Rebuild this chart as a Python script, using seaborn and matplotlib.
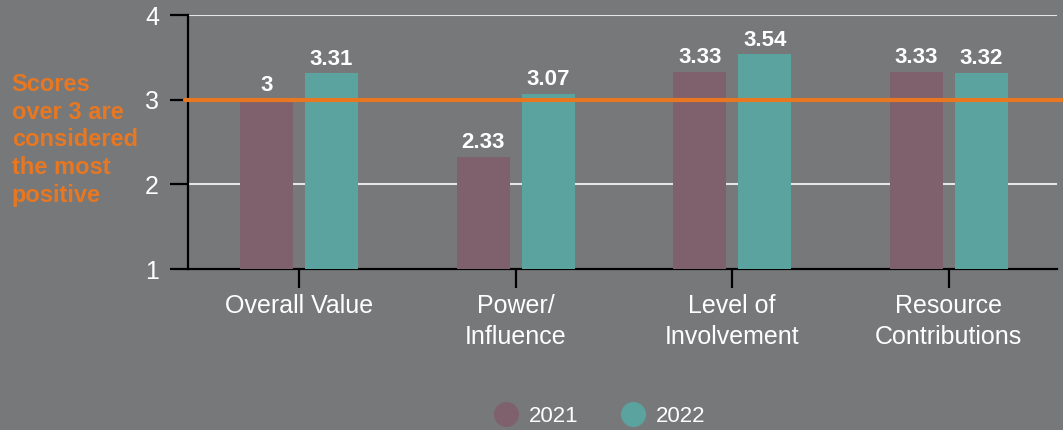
import matplotlib
matplotlib.use('Agg')
import matplotlib.pyplot as plt
from matplotlib.lines import Line2D
import pandas as pd
import seaborn as sns

# Dados do gráfico
categorias = ['Overall Value', 'Power/\nInfluence', 'Level of\nInvolvement', 'Resource\nContributions']
anos = ['2021', '2022']
valores_2021 = [3, 2.33, 3.33, 3.33]
valores_2022 = [3.31, 3.07, 3.54, 3.32]
rotulos_2021 = ['3', '2.33', '3.33', '3.33']
rotulos_2022 = ['3.31', '3.07', '3.54', '3.32']

fundo = '#77787a'
cores = {'2021': '#7f616e', '2022': '#5ba39e'}
laranja = '#e87722'

df = pd.DataFrame({
    'categoria': categorias * 2,
    'ano': ['2021'] * 4 + ['2022'] * 4,
    'valor': valores_2021 + valores_2022,
})

sns.set_style('white')
plt.rcParams['font.family'] = ['Liberation Sans', 'DejaVu Sans']

fig = plt.figure(figsize=(10.63, 4.30), dpi=100, facecolor=fundo)
ax = fig.add_axes([0.1769, 0.374, 0.8175, 0.591])
ax.set_facecolor(fundo)

sns.barplot(data=df, x='categoria', y='valor', hue='ano', palette=cores,
            width=0.6, gap=0.18, saturation=1, linewidth=0, ax=ax, legend=False, zorder=3)

ax.set_ylim(1, 4)
ax.set_xlim(-0.513, 3.5)
ax.set_yticks([1, 2, 3, 4])
ax.set_xlabel('')
ax.set_ylabel('')
ax.grid(axis='y', color='#e6e6e6', linewidth=1.5, zorder=0)
ax.set_axisbelow(True)

for s in ['top', 'right']:
    ax.spines[s].set_visible(False)
for s in ['left', 'bottom']:
    ax.spines[s].set_color('black')
    ax.spines[s].set_linewidth(1.6)

ax.tick_params(axis='y', left=True, labelcolor='white', color='black', labelsize=18,
               length=13, width=1.6, pad=8)
ax.tick_params(axis='x', bottom=True, labelcolor='white', color='black', labelsize=18,
               length=14, width=1.6, pad=4)
for lbl in ax.get_xticklabels():
    lbl.set_linespacing(1.35)

# Rótulos dos valores
rotulos = rotulos_2021 + rotulos_2022
for patch, texto in zip(ax.patches, rotulos):
    ax.text(patch.get_x() + patch.get_width() / 2, patch.get_height() + 0.1, texto,
            ha='center', va='baseline', color='white', fontsize=16, fontweight='bold', zorder=5)

# Linha de referência em 3
ax.axhline(3, xmin=-0.003, xmax=1.01, color=laranja, linewidth=3, clip_on=False, zorder=4)

fig.text(0.011, 0.83, 'Scores\nover 3 are\nconsidered\nthe most\npositive', color=laranja,
         fontsize=17, fontweight='bold', ha='left', va='top', linespacing=1.26)

# Legenda
handles = [Line2D([0], [0], marker='o', linestyle='', markersize=17,
                  markerfacecolor=cores[a], markeredgecolor=cores[a]) for a in anos]
fig.legend(handles, anos, loc='center', bbox_to_anchor=(0.5635, 0.031), ncol=2, frameon=False,
           fontsize=16, labelcolor='white', handlelength=1.2, handletextpad=0.43,
           columnspacing=1.88)

fig.savefig('out.png', dpi=100, facecolor=fundo)
